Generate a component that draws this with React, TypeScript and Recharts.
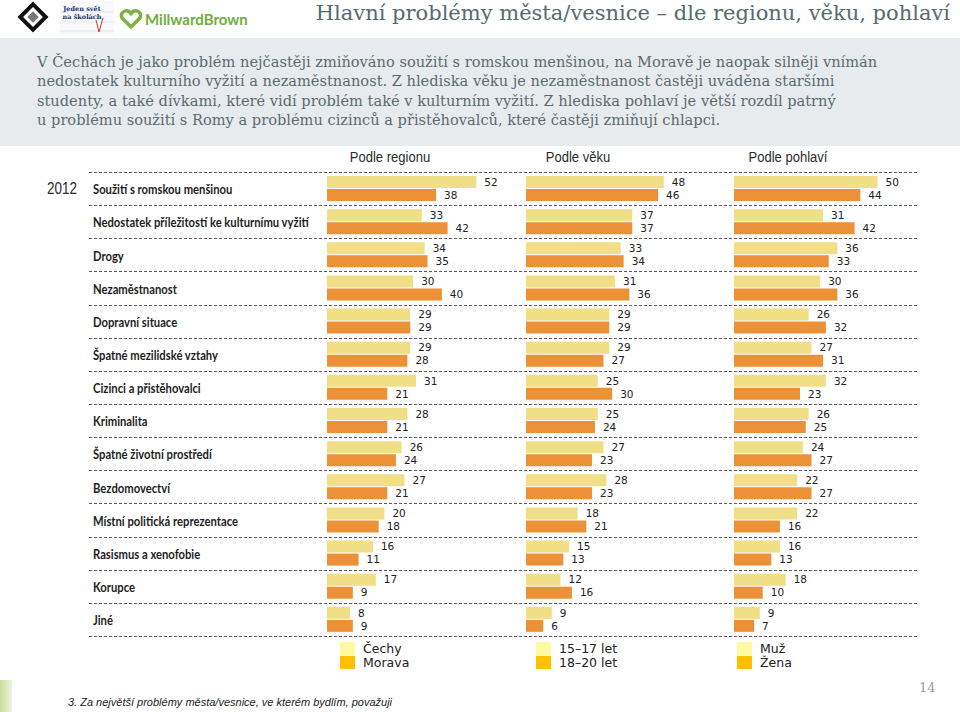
import { BarChart, Bar, XAxis, YAxis, CartesianGrid, LabelList } from "recharts";

const problems = [
  "Soužití s romskou menšinou",
  "Nedostatek příležitostí ke kulturnímu vyžití",
  "Drogy",
  "Nezaměstnanost",
  "Dopravní situace",
  "Špatné mezilidské vztahy",
  "Cizinci a přistěhovalci",
  "Kriminalita",
  "Špatné životní prostředí",
  "Bezdomovectví",
  "Místní politická reprezentace",
  "Rasismus a xenofobie",
  "Korupce",
  "Jiné",
];

const cechy = [52, 33, 34, 30, 29, 29, 31, 28, 26, 27, 20, 16, 17, 8];
const morava = [38, 42, 35, 40, 29, 28, 21, 21, 24, 21, 18, 11, 9, 9];
const age1517 = [48, 37, 33, 31, 29, 29, 25, 25, 27, 28, 18, 15, 12, 9];
const age1820 = [46, 37, 34, 36, 29, 27, 30, 24, 23, 23, 21, 13, 16, 6];
const muz = [50, 31, 36, 30, 26, 27, 32, 26, 24, 22, 22, 16, 18, 9];
const zena = [44, 42, 33, 36, 32, 31, 23, 25, 27, 27, 16, 13, 10, 7];

const panelTitles = ["Podle regionu", "Podle věku", "Podle pohlaví"];
const seriesNames = [
  ["Čechy", "Morava"],
  ["15–17 let", "18–20 let"],
  ["Muž", "Žena"],
];
const seriesValues = [
  [cechy, morava],
  [age1517, age1820],
  [muz, zena],
];

const BAR_A = "#F0DF86";
const BAR_B = "#EC9137";
const LEG_A = "#FFF9A0";
const LEG_B = "#FFC000";

// layout
const GRID_LEFT = 88;
const GRID_TOP = 171;
const GRID_W = 830;
const GRID_H = 466;
const panelLeft = [327, 526, 734];
const panelTitleX = [390, 578, 788];
const legendLeft = [340, 536, 737];
const PANEL_W = 201;

const baseRows = problems.map((label) => ({ label }));

function rowsFor(p: number) {
  return problems.map((label, i) => ({
    label,
    a: seriesValues[p][0][i],
    b: seriesValues[p][1][i],
  }));
}

function RowLabel(props: any) {
  const { y, payload } = props;
  return (
    <text
      transform={`translate(5,${y + 1}) scale(0.9,1)`}
      textAnchor="start"
      dominantBaseline="central"
      fontFamily="Lato, 'Open Sans', sans-serif"
      fontWeight={700}
      fontSize={12.5}
      fill="#1e1e1e"
    >
      {payload.value}
    </text>
  );
}

const valueLabelStyle = { fontFamily: "'DejaVu Sans', Verdana, sans-serif", fontSize: 10.5, fill: "#222" };

function Panel({ p }: { p: number }) {
  return (
    <div style={{ position: "absolute", left: panelLeft[p], top: GRID_TOP, width: PANEL_W, height: GRID_H }}>
      <BarChart
        width={PANEL_W + 40}
        height={GRID_H}
        data={rowsFor(p)}
        layout="vertical"
        margin={{ top: 1, right: 40, bottom: 1, left: 0 }}
        barSize={12}
        barGap={1}
      >
        <XAxis type="number" domain={[0, 70]} hide />
        <YAxis type="category" dataKey="label" hide />
        <Bar dataKey="a" name={seriesNames[p][0]} fill={BAR_A} isAnimationActive={false}>
          <LabelList dataKey="a" position="right" offset={8} style={valueLabelStyle} />
        </Bar>
        <Bar dataKey="b" name={seriesNames[p][1]} fill={BAR_B} isAnimationActive={false}>
          <LabelList dataKey="b" position="right" offset={8} style={valueLabelStyle} />
        </Bar>
      </BarChart>
    </div>
  );
}

function Header() {
  return (
    <>
      <svg style={{ position: "absolute", left: 0, top: 0 }} width={260} height={36}>
        <g transform="translate(33,17) rotate(45)">
          <rect x={-11} y={-11} width={22} height={22} fill="#111" />
          <rect x={-7} y={-7} width={14} height={14} fill="#fff" />
          <rect x={-4} y={-4} width={8} height={8} fill="#777" />
        </g>
        <rect x={60} y={1} width={54} height={33} fill="#fafafa" />
        <line x1={60} x2={114} y1={12} y2={12} stroke="#e3e3ef" />
        <line x1={60} x2={114} y1={22} y2={22} stroke="#e3e3ef" />
        <line x1={60} x2={114} y1={31} y2={31} stroke="#e3e3ef" />
        <text x={82} y={11} fontSize={6.5} fontFamily="'DejaVu Serif', serif" fill="#203070" textAnchor="middle" fontWeight={700}>
          Jeden svět
        </text>
        <text x={82} y={19} fontSize={6.5} fontFamily="'DejaVu Serif', serif" fill="#203070" textAnchor="middle" fontWeight={700}>
          na školách
        </text>
        <path d="M96 20 L99 32 L103 18" stroke="#c0392b" fill="none" strokeWidth={1} />
        <path
          d="M131 27 L122 18 Q120 13 125 11 Q129 10 131 14 Q133 10 137 11 Q142 13 140 18 Z"
          fill="none"
          stroke="#7cb342"
          strokeWidth={3.5}
          strokeLinejoin="round"
        />
        <text x={145} y={25} fontSize={15} fontFamily="Lato, sans-serif" fontWeight={700} fill="#6fae3c">
          MillwardBrown
        </text>
      </svg>
      <div
        style={{
          position: "absolute",
          right: 10,
          top: 1,
          fontFamily: "'DejaVu Serif', Georgia, serif",
          fontSize: 21,
          color: "#566a70",
          whiteSpace: "nowrap",
        }}
      >
        Hlavní problémy města/vesnice – dle regionu, věku, pohlaví
      </div>
      <div
        style={{
          position: "absolute",
          left: 0,
          top: 38,
          width: 960,
          height: 108,
          background: "#e7ebed",
        }}
      />
      <div
        style={{
          position: "absolute",
          left: 37,
          top: 52,
          fontFamily: "'DejaVu Serif', Georgia, serif",
          fontSize: 14.6,
          lineHeight: "19.4px",
          color: "#5b6b71",
          whiteSpace: "pre",
        }}
      >
        {"V Čechách je jako problém nejčastěji zmiňováno soužití s romskou menšinou, na Moravě je naopak silněji vnímán\n" +
          "nedostatek kulturního vyžití a nezaměstnanost. Z hlediska věku je nezaměstnanost častěji uváděna staršími\n" +
          "studenty, a také dívkami, které vidí problém také v kulturním vyžití. Z hlediska pohlaví je větší rozdíl patrný\n" +
          "u problému soužití s Romy a problému cizinců a přistěhovalců, které častěji zmiňují chlapci."}
      </div>
    </>
  );
}

export default function App() {
  const sans = "'Liberation Sans', Arial, sans-serif";
  return (
    <div
      style={{
        position: "absolute",
        left: 0,
        top: 0,
        width: 960,
        height: 712,
        overflow: "hidden",
        background: "#fff",
      }}
    >
      <Header />

      {panelTitles.map((t, p) => (
        <div
          key={t}
          style={{
            position: "absolute",
            left: panelTitleX[p] - 80,
            width: 160,
            top: 148,
            textAlign: "center",
            fontFamily: sans,
            fontSize: 15.5,
            color: "#2a2a2a",
            transform: "scaleX(0.84)",
          }}
        >
          {t}
        </div>
      ))}

      <div
        style={{
          position: "absolute",
          left: 47,
          top: 180,
          fontFamily: sans,
          fontSize: 16,
          color: "#2a2a2a",
          transform: "scaleX(0.84)",
          transformOrigin: "left center",
        }}
      >
        2012
      </div>

      <div style={{ position: "absolute", left: GRID_LEFT, top: GRID_TOP }}>
        <BarChart
          width={GRID_W}
          height={GRID_H}
          data={baseRows}
          layout="vertical"
          margin={{ top: 1, right: 0, bottom: 1, left: 0 }}
        >
          <CartesianGrid
            vertical={false}
            stroke="#5a5a5a"
            strokeDasharray="3 2"
            horizontalCoordinatesGenerator={(props: any) => {
              const off = props.offset || { top: 1, height: props.height - 2 };
              return problems
                .map((_, i) => off.top + (i * off.height) / problems.length)
                .concat(off.top + off.height)
                .map((v) => Math.round(v) + 0.5);
            }}
          />
          <XAxis type="number" domain={[0, 100]} hide />
          <YAxis type="category" dataKey="label" width={1} axisLine={false} tickLine={false} tick={<RowLabel />} interval={0} />
        </BarChart>
      </div>

      {panelTitles.map((t, p) => (
        <Panel key={t} p={p} />
      ))}

      {panelTitles.map((t, p) =>
        seriesNames[p].map((name, s) => (
          <div
            key={t + name}
            style={{
              position: "absolute",
              left: legendLeft[p],
              top: 642 + s * 13.5,
              height: 13.5,
              display: "flex",
              alignItems: "center",
              fontFamily: "'DejaVu Sans', Verdana, sans-serif",
              fontSize: 12.5,
              color: "#222",
              whiteSpace: "nowrap",
            }}
          >
            <span style={{ display: "inline-block", width: 15, height: 13.5, background: s === 0 ? LEG_A : LEG_B, marginRight: 8 }} />
            {name}
          </div>
        ))
      )}

      <div
        style={{
          position: "absolute",
          left: 0,
          top: 680,
          width: 12,
          height: 32,
          background: "linear-gradient(to right, #c9dc9a, #eef4dc)",
        }}
      />
      <div
        style={{
          position: "absolute",
          left: 68,
          top: 696,
          fontFamily: sans,
          fontStyle: "italic",
          fontSize: 11,
          color: "#222",
          whiteSpace: "nowrap",
        }}
      >
        3. Za největší problémy města/vesnice, ve kterém bydlím, považuji
      </div>
      <div
        style={{
          position: "absolute",
          left: 919,
          top: 680,
          fontFamily: "'DejaVu Serif', Georgia, serif",
          fontSize: 13,
          color: "#8da1a6",
        }}
      >
        14
      </div>
    </div>
  );
}
